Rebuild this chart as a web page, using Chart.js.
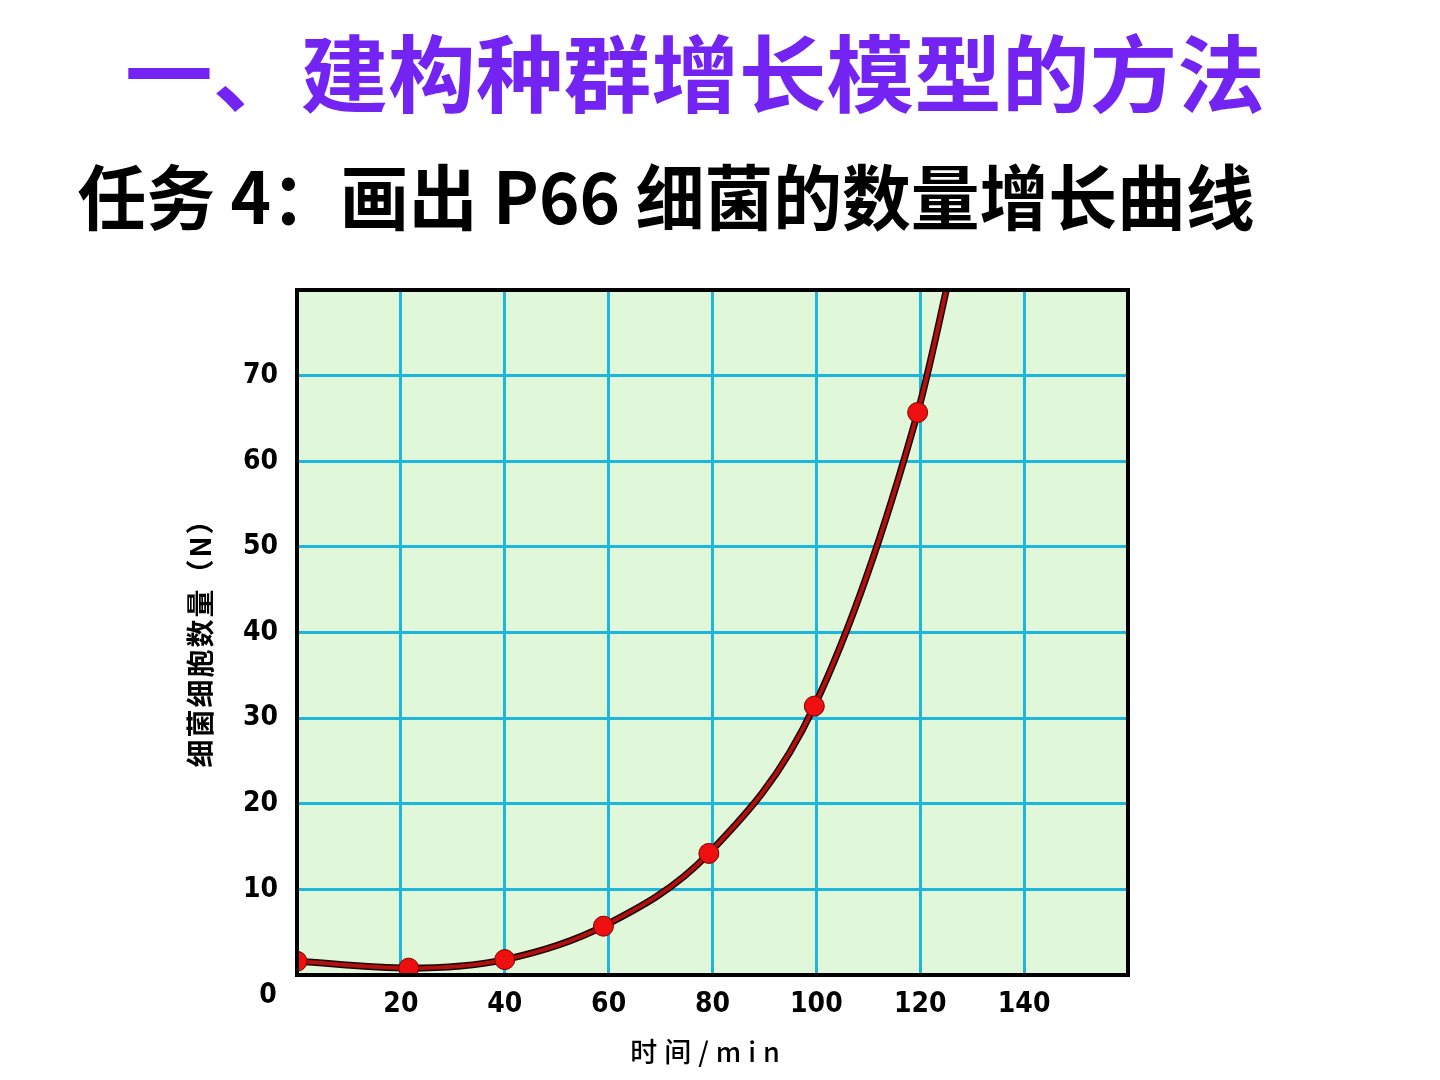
<!DOCTYPE html>
<html>
<head>
<meta charset="utf-8">
<script src="https://cdn.jsdelivr.net/npm/chart.js@4"></script>
<style>
  body { margin: 0; background: #fff; }
  #wrap { width: 1440px; height: 1080px; }
</style>
</head>
<body>
<div id="wrap"><canvas id="myChart" width="1440" height="1080"></canvas></div>
<script>
// data
const timeMin = [0, 21.5, 40, 59, 79.3, 99.6, 119.5, 126.5];
const cellCount = [1.6, 0.8, 1.8, 5.7, 14.2, 31.4, 65.7, 84];
const markerSize = [10, 10, 10, 10, 10, 10, 10, 0];
const xTicks = [20, 40, 60, 80, 100, 120, 140];
const yTicks = [10, 20, 30, 40, 50, 60, 70];

const mainTitle = "一、建构种群增长模型的方法";
const subTitle = "任务 4：画出 P66 细菌的数量增长曲线";
const xTitle = "时间/min";
const yTitle = "细菌细胞数量（N）";

const points = timeMin.map((t, i) => ({ x: t, y: cellCount[i] }));

const tickFont = { family: "'Liberation Sans Narrow', 'DejaVu Sans Condensed', sans-serif", size: 28, weight: "bold" };
const cjk = "'Noto Sans CJK SC', sans-serif";

// draw a line of text centred at (cx, cy), stretched to a given width
function stretchedText(ctx, text, font, color, cx, cy, width) {
    ctx.save();
    ctx.font = font;
    ctx.fillStyle = color;
    ctx.textAlign = "center";
    ctx.textBaseline = "middle";
    const natural = ctx.measureText(text).width;
    ctx.translate(cx, cy);
    ctx.scale(width / natural, 1);
    ctx.fillText(text, 0, 0);
    ctx.restore();
}

// light green plot background, black frame, titles
const frame = {
    id: "frame",
    beforeDraw(chart) {
        const { ctx, chartArea: a } = chart;
        ctx.save();
        ctx.fillStyle = "#e0f7da";
        ctx.fillRect(a.left, a.top, a.right - a.left, a.bottom - a.top);
        ctx.restore();
    },
    afterDraw(chart) {
        const { ctx, chartArea: a } = chart;
        ctx.save();
        ctx.strokeStyle = "#000";
        ctx.lineWidth = 4;
        ctx.strokeRect(a.left, a.top, a.right - a.left, a.bottom - a.top);
        // the lone "0" at the corner
        ctx.fillStyle = "#000";
        ctx.font = "bold 28px " + tickFont.family;
        ctx.textAlign = "center";
        ctx.textBaseline = "middle";
        ctx.fillText("0", a.left - 29, a.bottom + 21);
        ctx.restore();

        stretchedText(ctx, mainTitle, "bold 84px " + cjk, "#7424f2", 695, 74, 1140);
        stretchedText(ctx, subTitle, "bold 71px " + cjk, "#000", 666, 197, 1177);

        // axis titles
        ctx.save();
        ctx.fillStyle = "#000";
        ctx.textAlign = "center";
        ctx.textBaseline = "middle";
        ctx.font = "500 27px " + cjk;
        ctx.letterSpacing = "7px";
        ctx.fillText(xTitle, (a.left + a.right) / 2 - 4, 1052);
        ctx.translate(200, 636);
        ctx.rotate(-Math.PI / 2);
        ctx.font = "bold 28px " + cjk;
        ctx.letterSpacing = "2px";
        ctx.fillText(yTitle, 0, 0);
        ctx.restore();
    },
};

const ctx = document.getElementById("myChart").getContext("2d");
const myChart = new Chart(ctx, {
    type: "line",
    data: {
        datasets: [
            {
                // red curve with markers
                data: points,
                borderColor: "#b0110c",
                borderWidth: 4,
                cubicInterpolationMode: "monotone",
                pointRadius: markerSize,
                pointBackgroundColor: "#ee1010",
                pointBorderColor: "#7a0000",
                pointBorderWidth: 1,
                order: 1,
            },
            {
                // dark outline under the curve
                data: points,
                borderColor: "#1a0606",
                borderWidth: 7,
                cubicInterpolationMode: "monotone",
                pointRadius: 0,
                order: 2,
            },
        ],
    },
    options: {
        responsive: false,
        animation: false,
        layout: { padding: { left: 180, right: 312, top: 290, bottom: 0 } },
        plugins: {
            legend: { display: false },
            tooltip: { enabled: false },
        },
        scales: {
            x: {
                type: "linear",
                min: 0,
                max: 160,
                afterBuildTicks: (axis) => { axis.ticks = [0, ...xTicks, 160].map((v) => ({ value: v })); },
                ticks: {
                    color: "#000",
                    font: tickFont,
                    padding: 13,
                    callback: (v) => (xTicks.includes(v) ? v : ""),
                },
                grid: { color: "#1db7dc", lineWidth: 3, drawTicks: false },
                border: { display: false },
                afterFit: (axis) => { axis.height = 105; },
            },
            y: {
                min: 0,
                max: 80,
                afterBuildTicks: (axis) => { axis.ticks = [0, ...yTicks, 80].map((v) => ({ value: v })); },
                ticks: {
                    color: "#000",
                    font: tickFont,
                    padding: 19,
                    callback: (v) => (yTicks.includes(v) ? v : ""),
                },
                grid: { color: "#1db7dc", lineWidth: 3, drawTicks: false },
                border: { display: false },
                afterFit: (axis) => { axis.width = 117; },
            },
        },
    },
    plugins: [frame],
});
</script>
</body>
</html>
